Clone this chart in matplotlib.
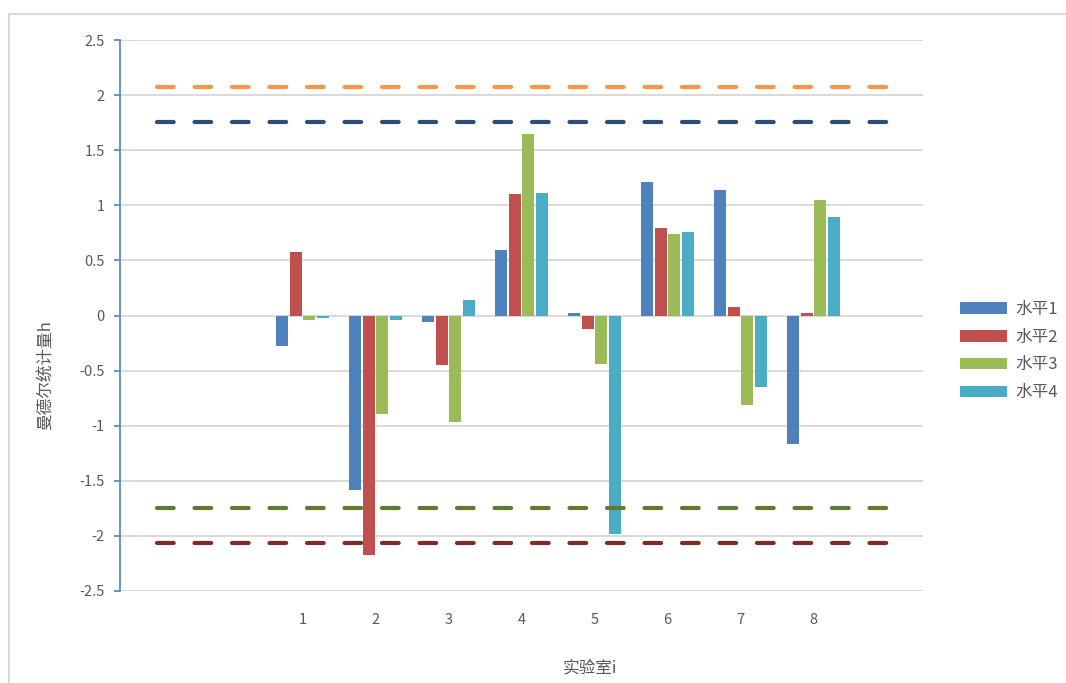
import matplotlib
matplotlib.use("Agg")
import matplotlib.pyplot as plt
import numpy as np
from matplotlib.patches import Patch
from matplotlib.lines import Line2D

plt.rcParams['font.family'] = ['Noto Sans CJK SC', 'DejaVu Sans']

# Laboratories (two blank slots before, one after)
categories = ["", "", "1", "2", "3", "4", "5", "6", "7", "8", ""]
series_names = ["水平1", "水平2", "水平3", "水平4"]
level1 = [None, None, -0.28, -1.58, -0.06, 0.59, 0.02, 1.21, 1.14, -1.17, None]
level2 = [None, None, 0.58, -2.17, -0.45, 1.10, -0.12, 0.79, 0.08, 0.02, None]
level3 = [None, None, -0.04, -0.89, -0.97, 1.65, -0.44, 0.74, -0.81, 1.05, None]
level4 = [None, None, -0.02, -0.04, 0.14, 1.11, -1.98, 0.76, -0.65, 0.89, None]

# Critical values of Mandel's h
crit_upper_1 = 2.07
crit_upper_5 = 1.76
crit_lower_5 = -1.75
crit_lower_1 = -2.06

bar_colors = ["#4F81BD", "#C0504D", "#9BBB59", "#4BACC6"]
line_styles = [
    (crit_upper_1, "#F79646"),
    (crit_upper_5, "#2C4D75"),
    (crit_lower_5, "#5F7A2C"),
    (crit_lower_1, "#7E2C2A"),
]

fig = plt.figure(figsize=(10.66, 6.83), dpi=100)
ax = fig.add_axes([120 / 1066, 1 - 591 / 683, 803 / 1066, 551 / 683])

x = np.arange(len(categories))
pitch = 0.183
width = 0.165
for i, (vals, col) in enumerate(zip([level1, level2, level3, level4], bar_colors)):
    xs = [xi + (i - 1.5) * pitch for xi, v in zip(x, vals) if v is not None]
    ys = [v for v in vals if v is not None]
    ax.bar(xs, ys, width=width, color=col, zorder=3, linewidth=0)

for val, col in line_styles:
    ax.plot(x, [val] * len(x), color=col, linewidth=3.0, dashes=(4, 5),
            dash_capstyle='round', zorder=4)

ax.set_xlim(-0.5, len(categories) - 0.5)
ax.set_ylim(-2.5, 2.5)
ax.set_yticks(np.arange(-2.5, 2.51, 0.5))
ax.set_yticklabels([f"{v:g}" for v in np.arange(-2.5, 2.51, 0.5)])
ax.set_xticks(x)
ax.set_xticklabels(categories)
ax.grid(axis='y', color='#D9D9D9', linewidth=1.4, zorder=0)

for s in ['top', 'right', 'bottom']:
    ax.spines[s].set_visible(False)
ax.spines['left'].set_color('#5B8BC8')
ax.spines['left'].set_linewidth(1.3)
ax.tick_params(axis='y', colors='#5B8BC8', labelcolor='#595959', length=4,
               width=1.3, pad=7, labelsize=10.5)
ax.tick_params(axis='x', length=0, pad=16, labelcolor='#595959', labelsize=10.5)

fig.text(45 / 1066, 1 - 375 / 683, "曼德尔统计量h", rotation=90, ha='center',
         va='center', fontsize=12, color='#595959')
fig.text(590 / 1066, 1 - 668 / 683, "实验室i", ha='center', va='center',
         fontsize=12, color='#595959')

handles = [Patch(facecolor=c, edgecolor='none') for c in bar_colors]
fig.legend(handles, series_names, loc='center left',
           bbox_to_anchor=(945 / 1066, 1 - 351 / 683), frameon=False,
           fontsize=12, handlelength=2.8, handleheight=0.7,
           labelspacing=0.65, handletextpad=0.5, labelcolor='#595959')

# chart area border
fig.add_artist(Line2D([9 / 1066, 9 / 1066], [0, 1 - 14 / 683],
                      transform=fig.transFigure, color='#D9D9D9', linewidth=1.5))
fig.add_artist(Line2D([9 / 1066, 1], [1 - 14 / 683, 1 - 14 / 683],
                      transform=fig.transFigure, color='#D9D9D9', linewidth=1.5))

fig.savefig("out.png", dpi=100)
